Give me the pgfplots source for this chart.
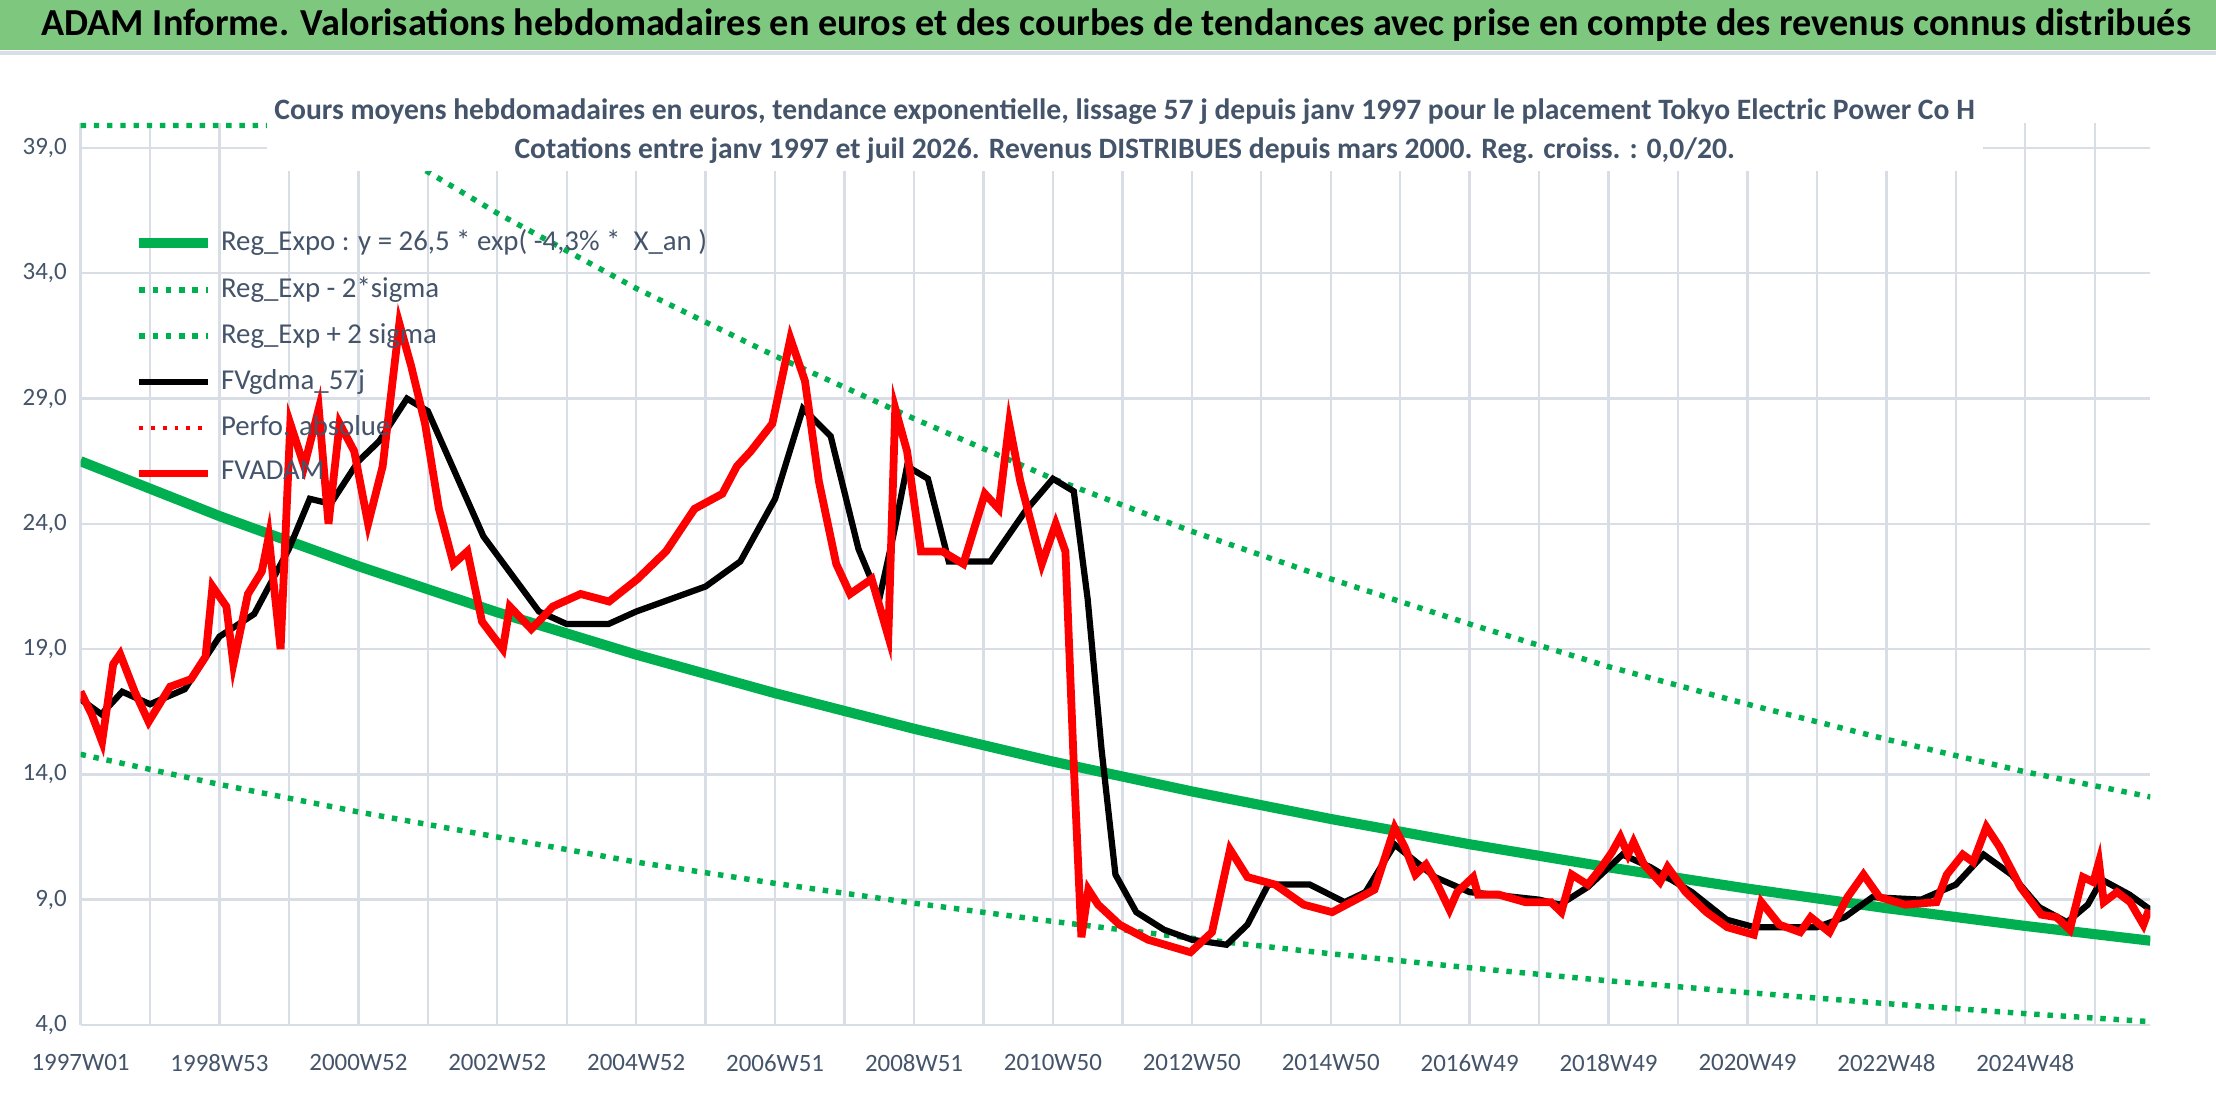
\documentclass[border=0pt]{standalone}
\usepackage{pgfplots}
\pgfplotsset{compat=1.18}
\usepackage{fontspec}
\setmainfont{Carlito}
\definecolor{gbar}{HTML}{7EC77F}
\definecolor{gline}{HTML}{00B050}
\definecolor{txt}{HTML}{44546A}
\definecolor{grd}{HTML}{D9DDE6}
\begin{document}
\begin{tikzpicture}
\path[use as bounding box,fill=white] (0,0) rectangle (20cm,9.98cm);
\fill[gbar] (0,9.53cm) rectangle (20cm,9.98cm);
\draw[grd,line width=1pt] (0,9.5cm) -- (20cm,9.5cm);
\node[font=\bfseries\fontsize{9.8}{11}\selectfont,anchor=west] at (0.25cm,9.755cm) {ADAM Informe. Valorisations hebdomadaires en euros et des courbes de tendances avec prise en compte des revenus connus distribués};
\begin{axis}[at={(0.727cm,0.73cm)},anchor=south west,width=18.68cm,height=8.14cm,scale only axis,
 xmin=0,xmax=29.8,ymin=4,ymax=40,
 axis line style={draw=none},
 xtick={0,2,...,28},
 xticklabels={1997W01,1998W53,2000W52,2002W52,2004W52,2006W51,2008W51,2010W50,2012W50,2014W50,2016W49,2018W49,2020W49,2022W48,2024W48},
 minor xtick={1,3,...,29},
 ytick={4,9,14,19,24,29,34,39},
 xmajorgrids,xminorgrids,ymajorgrids,
 grid style={grd,line width=0.6pt},minor grid style={grd,line width=0.6pt},
 major tick length=0pt,minor tick length=0pt,
 tick label style={font=\fontsize{6.4}{8}\selectfont,text=txt},
 xticklabel style={yshift=-4pt},
 /pgf/number format/assume math mode=true,
 yticklabel style={/pgf/number format/.cd,fixed,fixed zerofill,precision=1,use comma},
 clip=true,
 legend style={at={(0.02,0.9)},anchor=north west,draw=none,fill=none,font=\fontsize{7.4}{9}\selectfont,text=txt,row sep=1.2pt,
  /tikz/every even column/.append style={column sep=0pt}},
 legend cell align=left,
 legend image code/.code={\draw[#1] (0cm,0cm) -- (0.62cm,0cm);},
]
\addplot[gline,line width=2.6pt] coordinates {(0,26.5)(2,24.31)(4,22.31)(6,20.47)(8,18.78)(10,17.24)(12,15.82)(14,14.51)(16,13.32)(18,12.22)(20,11.21)(22,10.29)(24,9.44)(26,8.66)(28,7.95)(29.8,7.36)};
\addlegendentry{Reg\_Expo : y = 26,5 * exp( -4,3\% *\ \ X\_an )}
\addplot[gline,line width=1.4pt,dotted] coordinates {(0,14.8)(2,13.6)(4,12.5)(6,11.5)(8,10.5)(10,9.65)(12,8.86)(14,8.13)(16,7.46)(18,6.84)(20,6.28)(22,5.76)(24,5.29)(26,4.85)(28,4.45)(29.8,4.13)};
\addlegendentry{Reg\_Exp - 2*sigma}
\addplot[gline,line width=1.4pt,dotted] coordinates {(0,39.9)(3.85,39.9)(4,39.7)(6,36.4)(8,33.4)(10,30.7)(12,28.2)(14,25.8)(16,23.7)(18,21.8)(20,20.0)(22,18.3)(24,16.8)(26,15.4)(28,14.1)(29.8,13.1)};
\addlegendentry{Reg\_Exp + 2 sigma}
\addplot[black,line width=1.6pt] coordinates {(0,17)(0.3,16.4)(0.6,17.3)(1,16.8)(1.5,17.4)(2,19.5)(2.5,20.4)(3,23)(3.3,25)(3.6,24.8)(4,26.5)(4.3,27.3)(4.7,29)(5,28.5)(5.4,26)(5.8,23.5)(6.2,22)(6.6,20.5)(7,20)(7.6,20)(8,20.5)(9,21.5)(9.5,22.5)(10,25)(10.4,28.6)(10.8,27.5)(11.2,23)(11.5,21)(11.7,23.5)(11.9,26.3)(12.2,25.8)(12.5,22.5)(13.1,22.5)(13.6,24.5)(14,25.8)(14.3,25.3)(14.5,21)(14.7,15)(14.9,10)(15.2,8.5)(15.6,7.8)(16,7.4)(16.5,7.2)(16.8,8)(17.1,9.6)(17.7,9.6)(18.2,8.9)(18.5,9.3)(18.92,11.2)(19.5,9.9)(20,9.3)(21,9)(21.3,8.8)(21.7,9.5)(22.2,10.8)(22.6,10.3)(23.2,9.3)(23.7,8.2)(24.1,7.9)(25,7.9)(25.4,8.3)(25.8,9.1)(26.5,9)(27,9.6)(27.4,10.8)(27.8,10)(28.2,8.7)(28.6,8.1)(28.9,8.8)(29.1,9.8)(29.5,9.2)(29.8,8.6)};
\addlegendentry{FVgdma\_57j}
\addlegendimage{red,dotted,line width=1pt}
\addlegendentry{Perfo. absolue}
\addplot[red,line width=2pt] coordinates {(0,17.3)(0.16,16.4)(0.31,15.3)(0.47,18.4)(0.57,18.8)(0.78,17.3)(0.98,16.1)(1.29,17.5)(1.59,17.8)(1.8,18.7)(1.9,21.5)(2.1,20.7)(2.2,18.4)(2.41,21.2)(2.61,22.1)(2.71,23.5)(2.88,19)(3.02,28)(3.22,26.3)(3.43,28.6)(3.57,24)(3.73,28)(3.94,26.9)(4.14,24)(4.35,26.3)(4.59,32)(4.76,30.3)(4.96,28)(5.16,24.6)(5.37,22.4)(5.57,22.9)(5.78,20.1)(6.08,19)(6.18,20.7)(6.49,19.8)(6.8,20.7)(7.2,21.2)(7.61,20.9)(8.02,21.8)(8.43,22.9)(8.84,24.6)(9.24,25.2)(9.45,26.3)(9.65,26.9)(9.96,28)(10.22,31.4)(10.43,29.7)(10.63,25.7)(10.88,22.4)(11.08,21.2)(11.39,21.8)(11.63,19.5)(11.73,28.6)(11.9,26.9)(12.1,22.9)(12.41,22.9)(12.71,22.4)(13.02,25.2)(13.22,24.6)(13.37,28)(13.53,25.7)(13.84,22.4)(14.04,24)(14.18,22.9)(14.3,14.4)(14.41,7.5)(14.51,9.4)(14.65,8.8)(14.96,8)(15.37,7.4)(15.98,6.9)(16.29,7.7)(16.55,11)(16.8,9.9)(17.2,9.6)(17.61,8.8)(18.02,8.5)(18.43,9.1)(18.63,9.4)(18.92,11.87)(19.07,11.07)(19.22,10)(19.37,10.4)(19.52,9.7)(19.71,8.6)(19.82,9.3)(20.05,9.9)(20.12,9.2)(20.42,9.2)(20.8,8.9)(21.17,8.9)(21.32,8.5)(21.47,10)(21.7,9.6)(21.9,10.3)(22.05,10.9)(22.17,11.5)(22.28,10.8)(22.36,11.3)(22.51,10.4)(22.74,9.7)(22.85,10.3)(23.11,9.3)(23.41,8.5)(23.71,7.9)(24.09,7.6)(24.2,8.9)(24.46,8)(24.76,7.7)(24.91,8.3)(25.18,7.7)(25.44,9.1)(25.67,10)(25.9,9.1)(26.27,8.8)(26.72,8.9)(26.87,10)(27.1,10.8)(27.25,10.5)(27.44,11.9)(27.63,11.1)(27.93,9.5)(28.23,8.4)(28.45,8.3)(28.64,7.8)(28.83,9.9)(28.98,9.7)(29.06,10.5)(29.13,8.9)(29.32,9.3)(29.51,8.9)(29.7,8)(29.78,8.6)};
\addlegendentry{FVADAM}
\end{axis}
\node[fill=white,inner sep=2pt,align=center,font=\bfseries\fontsize{7.6}{10}\selectfont,text=txt] at (10.15cm,8.8cm) {Cours moyens hebdomadaires en euros, tendance exponentielle, lissage 57 j depuis janv 1997 pour le placement Tokyo Electric Power Co H\\Cotations entre janv 1997 et juil 2026. Revenus DISTRIBUES depuis mars 2000. Reg. croiss. : 0,0/20.};
\end{tikzpicture}
\end{document}
